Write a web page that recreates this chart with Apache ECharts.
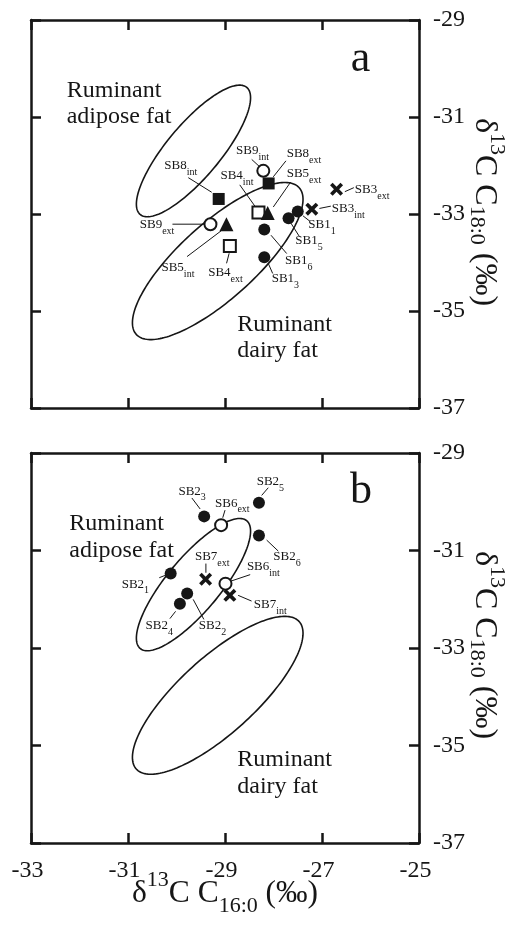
<!DOCTYPE html>
<html><head><meta charset="utf-8">
<script src="https://cdn.jsdelivr.net/npm/echarts@6/dist/echarts.min.js"></script>
<style>html,body{margin:0;padding:0;background:#fff}#c{width:511px;height:929px}</style>
</head><body><div id="c"></div>
<script>
// ---- data ----
const xTicks = [-33, -31, -29, -27, -25];
const yTicks = [-37, -35, -33, -31, -29];
// panel a  [label, d13C C16:0, d13C C18:0]
const sb1 = [['SB1_1', -27.50, -32.95], ['SB1_5', -27.69, -33.09], ['SB1_6', -28.19, -33.32], ['SB1_3', -28.19, -33.89]];
const sb3 = [['SB3_ext', -26.70, -32.49], ['SB3_int', -27.21, -32.90]];
const sb4 = [['SB4_int', -28.31, -32.97], ['SB4_ext', -28.90, -33.66]];
const sb5 = [['SB5_ext', -28.12, -32.98], ['SB5_int', -28.97, -33.21]];
const sb8 = [['SB8_ext', -28.10, -32.37], ['SB8_int', -29.13, -32.69]];
const sb9 = [['SB9_int', -28.21, -32.11], ['SB9_ext', -29.30, -33.21]];
// panel b
const sb2 = [['SB2_1', -30.12, -31.47], ['SB2_2', -29.78, -31.88], ['SB2_3', -29.43, -30.30], ['SB2_4', -29.93, -32.09], ['SB2_5', -28.30, -30.02], ['SB2_6', -28.30, -30.69]];
const sb6 = [['SB6_ext', -29.08, -30.48], ['SB6_int', -28.99, -31.68]];
const sb7 = [['SB7_ext', -29.40, -31.59], ['SB7_int', -28.90, -31.92]];
// reference ellipses: [centre x, centre y, semi-major, semi-minor, angle deg]
const adiposeEllipse = [-29.65, -31.70, 1.71, 0.55, 50];
const dairyEllipse = [-29.15, -33.97, 2.26, 0.78, 42];
const regionNames = ['Ruminant\nadipose fat', 'Ruminant\ndairy fat'];
const panelLetters = ['a', 'b'];

// ---- layout (pixel offsets of label text [left, baseline] and leader line) ----
const labelLayout = {
  SB9_int: [-27.3, -15.7, -11.6, -11.4, -3.8, -4.2],
  SB8_ext: [18, -25, 17.3, -22.6, 4.6, -6.6],
  SB8_int: [-54.4, -29, -30.4, -21.3, -7, -6.7],
  SB4_int: [-38, -32.7, -18.7, -27.7, -2.7, -5.2],
  SB5_ext: [19, -35.2, 23, -31, 5.6, -6],
  SB3_ext: [18.3, 4.7, 8.3, 2.4, 17.3, -1.6],
  SB3_int: [20, 4, 7.6, -0.7, 19, -3],
  SB1_1: [10.6, 17.8, 5.3, 4.3, 12.3, 9.8],
  SB1_5: [6.7, 26.7, 1.7, 3.7, 11, 18.4],
  SB1_6: [20.7, 35.7, 6.7, 5.7, 22.4, 24],
  SB1_3: [7.4, 26.3, 4, 6.3, 8.4, 16.3],
  SB9_ext: [-70.7, 5, -38, 0, -5.7, 0],
  SB5_int: [-65, 48.2, -39.4, 32.4, -5, 6.4],
  SB4_ext: [-21.7, 31.3, -3.3, 17.3, -0.7, 7.3],
  SB2_5: [-2.3, -16.6, 9.3, -15, 2.7, -7.3],
  SB2_3: [-25.7, -20.7, -12.3, -18.4, -4, -7.4],
  SB6_ext: [-6.1, -17.4, 1.6, -7.4, 3.9, -15],
  SB2_6: [14.3, 25.7, 7.7, 4.7, 19.3, 15.7],
  SB7_ext: [-10.7, -18.3, 0.3, -15.7, 0.3, -6.5],
  SB6_int: [21.4, -12.3, 24.7, -9, 4.7, -2.3],
  SB7_int: [24, 14, 8.3, 0, 21.7, 5.7],
  SB2_1: [-49, 15.3, -11.4, 4.3, -5.7, 2],
  SB2_2: [11.7, 36.7, 6, 6, 16.7, 26],
  SB2_4: [-34.3, 26.7, -4.3, 7.7, -10, 15]
};

const F = 'Liberation Serif';
const INK = '#161616';
const CROSS = 'path://M2,0 L5,3 L8,0 L10,2 L7,5 L10,8 L8,10 L5,7 L2,10 L0,8 L3,5 L0,2 Z';

function xAx(grid, pos, showLabel, name) {
  return {
    type: 'value', gridIndex: grid, position: pos,
    min: xTicks[0], max: xTicks[xTicks.length - 1], interval: 2,
    axisLine: { onZero: false, lineStyle: { color: INK, width: 2.5 } },
    axisTick: { inside: true, length: 10, lineStyle: { color: INK, width: 2.5 } },
    axisLabel: { show: showLabel, margin: 16, fontSize: 24, fontFamily: F, color: INK, padding: [0, 7, 0, 0] },
    splitLine: { show: false },
    name: name || '', nameLocation: 'middle', nameGap: 26, nameMoveOverlap: false,
    nameTextStyle: {
      color: INK, fontFamily: F,
      rich: {
        m: { fontSize: 31.5, fontFamily: F, color: INK, verticalAlign: 'top', padding: [8.7, 0, 0, 0] },
        sup: { fontSize: 22, fontFamily: F, color: INK, verticalAlign: 'top' },
        sub: { fontSize: 22, fontFamily: F, color: INK, verticalAlign: 'top', padding: [26, 0, 0, 0] }
      }
    }
  };
}
function yAx(grid, pos, showLabel, name, shift) {
  return {
    type: 'value', gridIndex: grid, position: pos,
    min: yTicks[0], max: yTicks[yTicks.length - 1], interval: 2,
    axisLine: { onZero: false, lineStyle: { color: INK, width: 2.5 } },
    axisTick: { inside: true, length: 10, lineStyle: { color: INK, width: 2.5 } },
    axisLabel: { show: showLabel, margin: 14, fontSize: 24, fontFamily: F, color: INK },
    splitLine: { show: false },
    name: name || '', nameLocation: 'middle', nameRotate: -90, nameGap: 47, nameMoveOverlap: false,
    nameTextStyle: {
      color: INK, fontFamily: F, padding: [0, shift || 0, 0, 0],
      rich: {
        m: { fontSize: 32, fontFamily: F, color: INK, verticalAlign: 'top', padding: [8, 0, 0, 0] },
        sup: { fontSize: 22, fontFamily: F, color: INK, verticalAlign: 'top' },
        sub: { fontSize: 22, fontFamily: F, color: INK, verticalAlign: 'top', padding: [20, 0, 0, 0] }
      }
    }
  };
}

function scatter(arr, symbol, filled, ax, size) {
  return {
    type: 'scatter', xAxisIndex: ax, yAxisIndex: ax, symbol: symbol, symbolSize: size, z: 5, silent: true,
    data: arr.map(d => ({ name: d[0], value: [d[1], d[2]] })),
    itemStyle: filled ? { color: INK, opacity: 1 } : { color: '#fff', borderColor: INK, borderWidth: 2, opacity: 1 }
  };
}

function ellipses(ax) {
  const list = [adiposeEllipse, dairyEllipse];
  return {
    type: 'custom', xAxisIndex: ax, yAxisIndex: ax, z: 1, silent: true,
    data: list.map(e => e.slice(0, 2)), encode: { x: 0, y: 1 },
    renderItem(params, api) {
      const e = list[params.dataIndex];
      const th = e[4] * Math.PI / 180;
      const pts = [];
      for (let i = 0; i < 180; i++) {
        const t = i / 180 * 2 * Math.PI;
        const x = e[0] + e[2] * Math.cos(th) * Math.cos(t) - e[3] * Math.sin(th) * Math.sin(t);
        const y = e[1] + e[2] * Math.sin(th) * Math.cos(t) + e[3] * Math.cos(th) * Math.sin(t);
        pts.push(api.coord([x, y]));
      }
      return { type: 'polygon', shape: { points: pts }, style: { fill: 'none', stroke: INK, lineWidth: 1.6 } };
    }
  };
}

function labels(groups, ax) {
  const pts = [].concat(...groups);
  return {
    type: 'custom', xAxisIndex: ax, yAxisIndex: ax, z: 3, silent: true,
    data: pts.map(d => [d[1], d[2]]), encode: { x: 0, y: 1 },
    renderItem(params, api) {
      const d = pts[params.dataIndex];
      const p = api.coord([api.value(0), api.value(1)]);
      const L = labelLayout[d[0]];
      const parts = d[0].split('_');
      return {
        type: 'group', children: [
          { type: 'line', shape: { x1: p[0] + L[2], y1: p[1] + L[3], x2: p[0] + L[4], y2: p[1] + L[5] }, style: { stroke: INK, lineWidth: 1 } },
          { type: 'text', x: p[0] + L[0], y: p[1] + L[1] - 10.9,
            style: {
              text: '{m|' + parts[0] + '}{s|' + parts[1] + '}', textAlign: 'left', verticalAlign: 'top', fill: INK,
              rich: {
                m: { fontSize: 13, fontFamily: F, fill: INK, verticalAlign: 'top' },
                s: { fontSize: 10, fontFamily: F, fill: INK, verticalAlign: 'top', padding: [8, 0, 0, 0] }
              }
            } }
        ]
      };
    }
  };
}

const chart = echarts.init(document.getElementById('c'), null, { renderer: 'canvas' });
chart.setOption({
  backgroundColor: '#fff',
  animation: false,
  grid: [
    { left: 31, top: 20, width: 388, height: 388, outerBoundsMode: 'none', containLabel: false },
    { left: 31, top: 453, width: 388, height: 390, outerBoundsMode: 'none', containLabel: false }
  ],
  xAxis: [
    xAx(0, 'bottom', false), xAx(0, 'top', false),
    xAx(1, 'bottom', true, '{m|δ}{sup|13}{m|C C}{sub|16:0}{m| (‰)}'), xAx(1, 'top', false)
  ],
  yAxis: [
    yAx(0, 'right', true, '{m|δ}{sup|13}{m|C C}{sub|18:0}{m| (‰)}', 4), yAx(0, 'left', false),
    yAx(1, 'right', true, '{m|δ}{sup|13}{m|C C}{sub|18:0}{m| (‰)}', 6), yAx(1, 'left', false)
  ],
  graphic: [
    { type: 'text', x: 66.7, y: 77.9, style: { text: regionNames[0], fontSize: 24, fontFamily: F, lineHeight: 26, fill: INK, textAlign: 'left', verticalAlign: 'top' } },
    { type: 'text', x: 237.3, y: 312.2, style: { text: regionNames[1], fontSize: 24, fontFamily: F, lineHeight: 26, fill: INK, textAlign: 'left', verticalAlign: 'top' } },
    { type: 'text', x: 69.3, y: 510.6, style: { text: regionNames[0], fontSize: 24, fontFamily: F, lineHeight: 26.5, fill: INK, textAlign: 'left', verticalAlign: 'top' } },
    { type: 'text', x: 237.3, y: 746.6, style: { text: regionNames[1], fontSize: 24, fontFamily: F, lineHeight: 26.5, fill: INK, textAlign: 'left', verticalAlign: 'top' } },
    { type: 'text', x: 350.7, y: 59.5, style: { text: panelLetters[0], fontSize: 44, fontFamily: F, fill: INK, textAlign: 'left', verticalAlign: 'middle' } },
    { type: 'text', x: 350, y: 491.9, style: { text: panelLetters[1], fontSize: 44, fontFamily: F, fill: INK, textAlign: 'left', verticalAlign: 'middle' } }
  ],
  series: [
    ellipses(0), ellipses(2),
    labels([sb1, sb3, sb4, sb5, sb8, sb9], 0),
    labels([sb2, sb6, sb7], 2),
    scatter(sb1, 'circle', true, 0, 12),
    scatter(sb9, 'circle', false, 0, 12),
    scatter(sb8, 'rect', true, 0, 12),
    scatter(sb4, 'rect', false, 0, 12),
    scatter(sb5, 'triangle', true, 0, 14),
    scatter(sb3, CROSS, true, 0, 13),
    scatter(sb2, 'circle', true, 2, 12),
    scatter(sb6, 'circle', false, 2, 12),
    scatter(sb7, CROSS, true, 2, 13)
  ]
});
</script></body></html>
